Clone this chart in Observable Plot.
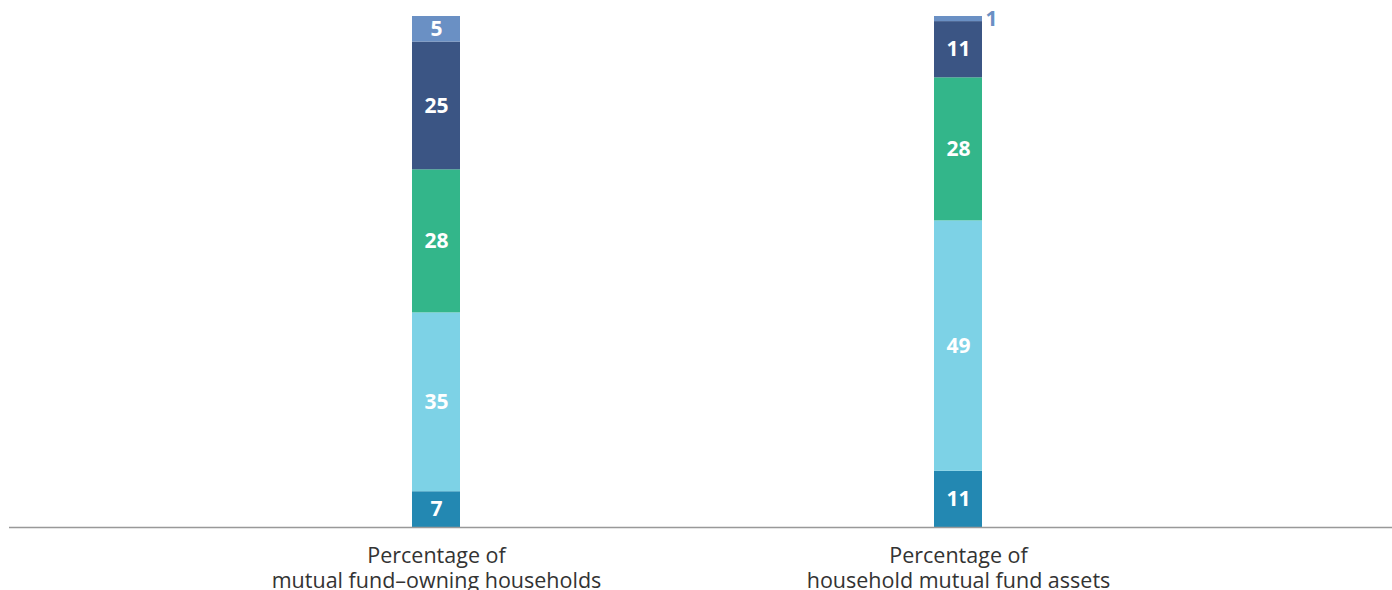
<!DOCTYPE html>
<html>
<head>
<meta charset="utf-8">
<script src="https://cdn.jsdelivr.net/npm/d3@7"></script>
<script src="https://cdn.jsdelivr.net/npm/@observablehq/plot@0.6"></script>
<style>
  html, body { margin: 0; padding: 0; background: #fff; }
  svg { display: block; }
</style>
</head>
<body>
<div id="chart"></div>
<script>
// Categories (bars) and their two-line labels
const bars = ["households", "assets"];
const barLabels = ["Percentage of\nmutual fund\u2013owning households", "Percentage of\nhousehold mutual fund assets"];
// Stack segments, bottom to top
const segments = ["Group 1", "Group 2", "Group 3", "Group 4", "Group 5"];
const segmentColors = ["#2388b2", "#7dd2e6", "#33b68a", "#3b5584", "#6a90c4"];
// Values per bar, in segment order (bottom to top)
const householdsValues = [7, 35, 28, 25, 5];
const assetsValues = [11, 49, 28, 11, 1];

const data = [];
segments.forEach((s, i) => {
  data.push({bar: bars[0], segment: s, value: householdsValues[i]});
  data.push({bar: bars[1], segment: s, value: assetsValues[i]});
});

const stackOpts = {x: "bar", y: "value", z: "segment", order: segments};

const chart = Plot.plot({
  width: 1392,
  height: 590,
  marginTop: 16,
  marginBottom: 63,
  marginLeft: 9,
  marginRight: 0,
  style: {fontFamily: "'Open Sans', Lato, sans-serif", background: "#fff"},
  x: {domain: bars, paddingInner: 0.9082, paddingOuter: 0.7763, align: 0.4955, label: null},
  y: {domain: [0, 100], axis: null},
  color: {domain: segments, range: segmentColors},
  marks: [
    Plot.barY(data, Plot.stackY({...stackOpts, fill: "segment"})),
    Plot.text(data, Plot.stackY({
      ...stackOpts,
      text: d => d.value >= 3 ? String(d.value) : "",
      fill: "white",
      fontSize: 21,
      fontWeight: "bold"
    })),
    Plot.text(data, Plot.stackY({
      ...stackOpts,
      text: d => d.value < 3 ? String(d.value) : "",
      fill: "segment",
      fontSize: 21,
      fontWeight: "bold",
      textAnchor: "start",
      dx: 27,
      dy: 0
    })),
    Plot.ruleY([0], {stroke: "#999", strokeWidth: 1.5}),
    Plot.axisX({
      tickSize: 0,
      tickPadding: 18,
      fontSize: 21.5,
      lineHeight: 1.15,
      tickFormat: d => barLabels[bars.indexOf(d)],
      color: "#333",
      label: null
    })
  ]
});
document.getElementById("chart").appendChild(chart);
</script>
</body>
</html>
